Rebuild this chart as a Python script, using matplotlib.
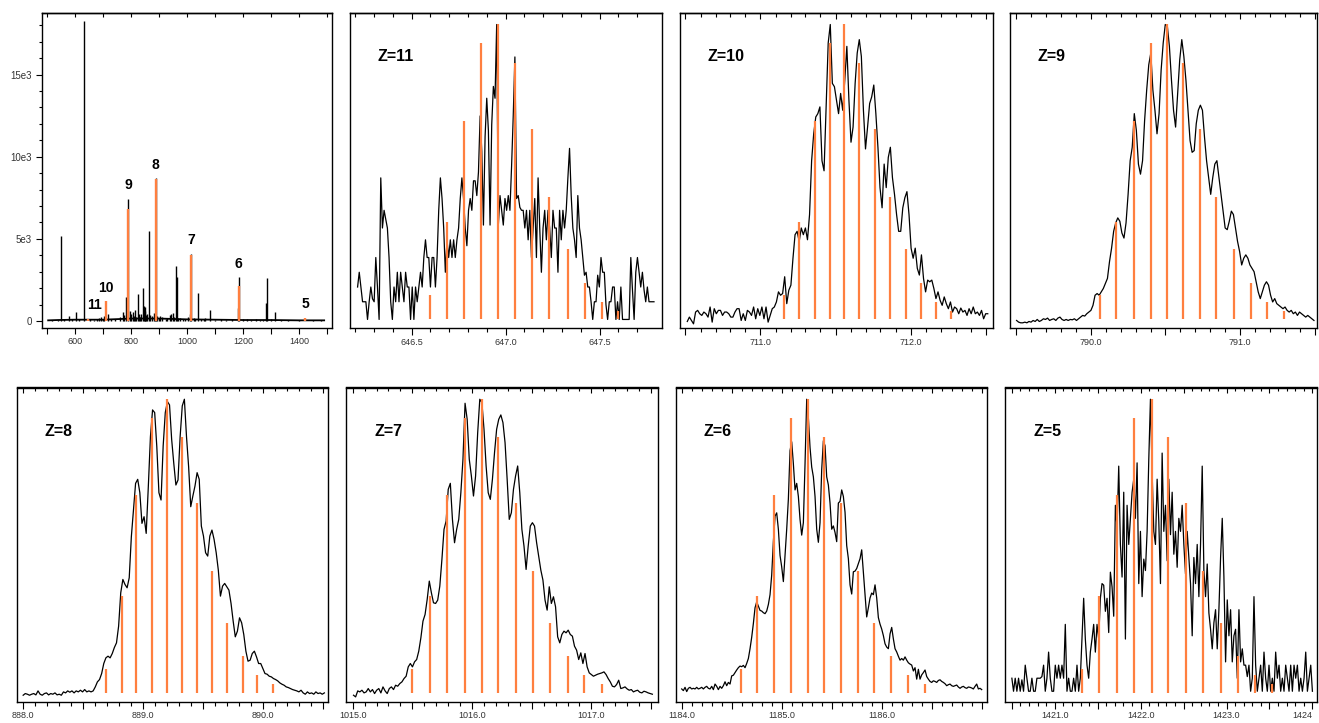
import numpy as np
import matplotlib
matplotlib.use("Agg")
import matplotlib.pyplot as plt
from matplotlib.ticker import NullFormatter

plt.rcParams['font.family'] = ['Liberation Sans', 'DejaVu Sans']

ORANGE = '#FF7F3F'
TICK_COLOR = '#333333'

# ---------------- Overview spectrum (panel 1) ----------------
overview_peak_mz = [551, 581, 604, 632, 688, 700, 720, 771, 783, 790.5, 798, 807, 815, 826, 834,
                    843, 846, 849, 855, 865.5, 874, 881, 889.2, 895, 905, 924, 945, 950, 961, 964,
                    970, 988, 1010, 1016.1, 1025, 1040.5, 1050, 1081, 1121, 1160, 1181, 1185.3, 1215,
                    1247, 1282, 1284.5, 1300, 1315.5]
overview_peak_int = [5200, 300, 520, 18250, 200, 150, 400, 530, 1480, 7450, 630, 540, 690, 1630, 250,
                     1990, 900, 830, 350, 5500, 300, 480, 8700, 300, 280, 150, 450, 470, 3370, 2700,
                     200, 150, 400, 4100, 200, 1720, 150, 700, 150, 100, 770, 2650, 100,
                     100, 1080, 2620, 100, 550]
overview_minor_mz = [520, 540, 560, 590, 615, 655, 668, 680, 695, 706, 730, 745, 760, 777, 802, 811,
                     820, 830, 838, 852, 858, 869, 885, 900, 912, 930, 940, 955, 975, 995, 1005, 1030,
                     1060, 1065, 1100, 1140, 1200, 1230, 1262, 1270, 1335, 1360, 1400, 1450, 1480]
overview_minor_int = [80, 60, 150, 100, 120, 100, 80, 150, 250, 300, 150, 120, 250, 350, 400, 300,
                      250, 450, 400, 600, 450, 350, 250, 200, 250, 200, 350, 250, 200, 120, 250, 150,
                      150, 200, 80, 80, 120, 60, 80, 60, 60, 50, 50, 50, 50]
overview_base_mz = [505, 540, 600, 700, 760, 800, 900, 1000, 1100, 1200, 1300, 1400, 1490]
overview_base_int = [40, 60, 80, 80, 120, 150, 150, 100, 80, 60, 60, 40, 40]

charge_states = [11, 10, 9, 8, 7, 6, 5]
charge_mz = [646.96, 711.56, 790.51, 889.20, 1016.08, 1185.26, 1422.13]
charge_int = [150, 1220, 6800, 8650, 4020, 2150, 200]

# ---------------- Theoretical isotope distribution (relative %) ----------------
isotope_rel = [8.3, 33.0, 67.3, 93.7, 100.0, 87.1, 64.5, 41.5, 23.8, 12.5, 6.0, 3.0]

# ---------------- Z=11 ----------------
z11_range = (646.213, 647.789)
z11_int = [11, 16, 11, 6, 6, 6, 0, 6, 11, 7,
           6, 21, 11, 0, 48, 31, 37, 34, 31, 21,
           6, 0, 11, 6, 16, 6, 16, 11, 6, 16,
           11, 11, 0, 11, 0, 11, 6, 11, 16, 11,
           21, 27, 21, 21, 11, 21, 21, 11, 21, 37,
           48, 41, 31, 16, 27, 21, 27, 21, 27, 21,
           27, 31, 41, 48, 41, 31, 25, 37, 41, 37,
           47, 47, 42, 50, 69, 57, 32, 62, 75, 64,
           32, 66, 79, 75, 100, 32, 42, 37, 32, 41,
           37, 42, 37, 52, 69, 89, 41, 42, 38, 37,
           37, 31, 37, 27, 37, 21, 31, 41, 21, 48,
           31, 16, 31, 37, 27, 37, 31, 21, 37, 31,
           31, 16, 37, 27, 37, 31, 37, 48, 58, 42,
           31, 27, 21, 42, 31, 27, 21, 15, 16, 11,
           11, 6, 0, 6, 6, 15, 11, 21, 16, 16,
           5, 0, 6, 6, 11, 11, 0, 6, 0, 11,
           0, 0, 0, 0, 0, 21, 10, 0, 16, 21,
           16, 11, 16, 10, 6, 11, 6, 6, 6, 6]
z11_sticks = [646.60, 646.69, 646.78, 646.87, 646.96, 647.05, 647.14, 647.23, 647.33, 647.42, 647.51, 647.60]

# ---------------- Z=10 ----------------
z10_range = (710.512, 712.515)
z10_int = [-6, 7, -3, -13, 22, 27, 17, 12, 22, 17,
           7, 37, -8, 32, 17, 27, 27, 12, 22, 22,
           17, 7, 7, 22, 32, 32, -3, 17, -3, 27,
           22, 12, 37, 2, 32, 12, 37, 2, 37, -8,
           12, 32, 37, 52, 82, 72, 77, 127, 47, 87,
           102, 182, 252, 262, 232, 272, 252, 272, 237, 312,
           472, 552, 602, 612, 632, 472, 442, 632, 822, 877,
           702, 692, 652, 612, 672, 622, 712, 812, 652, 527,
           572, 702, 792, 832, 782, 622, 507, 572, 642, 662,
           697, 612, 512, 392, 332, 462, 392, 482, 512, 422,
           372, 312, 262, 262, 332, 362, 380, 312, 212, 182,
           212, 152, 132, 192, 122, 82, 117, 112, 117, 92,
           62, 82, 57, 42, 67, 47, 32, 52, 22, 37,
           32, 17, 34, 22, 27, 12, 32, 17, 37, 17,
           22, 12, 27, 2, 17, 17]
z10_sticks = [711.16, 711.26, 711.36, 711.46, 711.56, 711.66, 711.76, 711.86, 711.97, 712.07, 712.17, 712.27]

# ---------------- Z=9 ----------------
z9_range = (789.504, 791.493)
z9_int = [-3, -8, -10, -10, -8, -10, -6, -8, -3, -6,
          0, -6, -3, 2, 0, 4, -3, 0, 2, -3,
          4, 7, 0, -3, 0, -3, 0, -1, 2, -3,
          2, 7, 12, 10, 17, 22, 27, 42, 72, 77,
          72, 82, 92, 107, 122, 172, 212, 262, 287, 302,
          292, 257, 242, 287, 372, 472, 512, 612, 562, 462,
          432, 472, 592, 682, 757, 792, 682, 622, 552, 612,
          742, 822, 877, 872, 812, 712, 622, 572, 672, 772,
          832, 782, 712, 622, 532, 497, 502, 582, 622, 637,
          622, 542, 472, 422, 372, 422, 462, 472, 422, 372,
          322, 272, 267, 292, 322, 312, 272, 232, 202, 162,
          182, 192, 182, 162, 152, 142, 112, 82, 62, 82,
          102, 112, 102, 72, 52, 62, 47, 42, 37, 32,
          37, 27, 22, 27, 17, 22, 12, 22, 17, 12,
          7, 12, 7, 2, -3]
z9_sticks = [790.06, 790.17, 790.29, 790.40, 790.51, 790.62, 790.73, 790.84, 790.96, 791.07, 791.18, 791.29]

# ---------------- Z=8 ----------------
z8_range = (888.000, 890.509)
z8_int = [-7, -2, -4, -7, -4, -2, -6, 6, -4, -7,
          -2, 0, -6, -2, -4, 0, -6, -4, -7, 3,
          0, 6, 2, 6, 0, 6, 3, 8, 3, 10,
          3, 6, 3, 6,
          18, 33, 40, 58, 88, 105, 110, 105, 118, 136,
          150, 200, 300, 340, 325, 315, 345, 468, 548, 628,
          640, 600, 508, 528, 478, 618, 768, 848, 840, 738,
          600, 578, 740, 840, 873, 863, 760, 688, 623, 638,
          768, 860, 880, 768, 678, 558, 590, 620, 660, 640,
          500, 470, 420, 410, 470, 488, 460, 420, 368, 290,
          320, 328, 318, 308, 268, 215, 168, 185, 225, 210,
          175, 125, 95, 98, 118, 125, 108, 88,
          88, 73, 58, 56, 50, 48, 43, 40, 36, 30,
          26, 23, 18, 16, 13, 10, 8, 6, 3, 8,
          0, -4, 3, -2, 0, -4, 3, -2, 0, -4, 0]
z8_sticks = [888.69, 888.82, 888.94, 889.07, 889.20, 889.32, 889.45, 889.57, 889.70, 889.83, 889.95, 890.08]

# ---------------- Z=7 ----------------
z7_range = (1015.007, 1017.511)
z7_int = [-7, -12, 6, 3, 8, 0, 3, 13, 3, 10,
          -2, 8, 13, 0, 18, 6, -2, 13, 18, 10,
          23, 20, 28, 33, 43, 50, 78, 88, 78, 93,
          100, 125, 165, 215, 235, 280, 335,
          300, 270, 268, 278, 320, 400, 490, 515, 610, 628,
          520, 450, 490, 520, 600, 700, 868, 820, 700, 650,
          590, 650, 780, 880, 870, 790, 680, 600, 580, 640,
          720, 790, 820, 833, 810, 750, 640, 520, 540, 610,
          650, 680, 600, 490, 440, 370,
          440, 500, 510, 500, 450, 408, 368, 338, 278, 248,
          318, 268, 288, 258, 168, 150, 175, 185, 180, 188,
          175, 170, 140, 128, 100, 120, 88, 118, 78, 60,
          55, 50, 53, 56, 58, 60, 63, 55, 43, 33,
          20, 18, 25, 38, 13, 15, 18, 12, 8, 10,
          3, 6, 8, 2, 0, 5, 3, 0, -2, -4]
z7_sticks = [1015.50, 1015.65, 1015.79, 1015.94, 1016.08, 1016.22, 1016.37, 1016.51, 1016.65, 1016.80,
             1016.94, 1017.09]

# ---------------- Z=6 ----------------
z6_range = (1184.000, 1187.000)
z6_int = [12, 7, 17, 4, 14, 17, 12, 14, 12, 17,
          12, 14, 17, 12, 17, 20, 14, 12, 20, 10,
          27, 20, 10, 20, 14, 22, 34, 22, 32, 27,
          52, 54, 62, 70, 77, 82, 80, 84, 77, 90,
          105, 135, 170, 212, 260, 278, 265, 252, 250, 245,
          242, 250, 270, 300, 360, 462, 540,
          550, 500, 420, 385, 340, 420, 500, 592, 740, 767,
          700, 620, 640, 600, 530, 482, 520, 700, 897, 840,
          750, 690, 660, 600, 500, 460, 520, 682, 770, 755,
          660, 635, 580, 500, 510, 490, 462, 580, 585, 620,
          600, 552, 450, 410, 330, 302, 370, 372, 380, 395,
          410, 437, 370, 300, 232, 260, 290, 305, 300, 330, 290,
          230, 210, 195, 175, 150, 140, 135, 180, 200, 165,
          135, 125, 112, 100, 105, 100, 110, 100, 92, 88,
          85, 67, 77, 42, 72, 42, 55, 62, 70, 50,
          42, 35, 32, 37, 35, 32, 38, 40, 35, 32,
          28, 22, 25, 27, 22, 20, 22, 24, 18, 14,
          18, 20, 16, 14, 18, 17, 15, 12, 20, 27,
          12, 14, 10]
z6_sticks = [1184.59, 1184.75, 1184.92, 1185.09, 1185.26, 1185.42, 1185.59, 1185.76, 1185.92, 1186.09,
             1186.26, 1186.43]

# ---------------- Z=5 ----------------
z5_range = (1420.500, 1424.000)
z5_int = [45, 5, 45, 5, 45, 5, 40, 5, 85, 45,
          5, 5, 45, 5, 5, 45, 45, 45, 50, 85,
          5, 45, 125, 45, 5, 5, 85, 45, 85, 45,
          85, 45, 210, 5, 45, 5, 5, 45, 5, 85,
          5, 45, 165, 290, 165, 85, 45, 125, 165, 210,
          125, 210, 165, 290, 335, 330, 250, 290, 185, 370,
          325, 235, 575, 505, 695, 455, 355, 615, 165, 575,
          455, 535, 615, 655, 535, 705, 335, 495, 295, 410,
          375, 495, 715, 900, 675, 495, 455, 655, 525, 335,
          735, 495, 575, 405, 655, 485, 615, 425, 495, 385,
          535, 495, 575, 455, 365, 495, 415, 335, 175, 415,
          335, 455, 295, 455, 695, 375, 295, 395, 245, 195,
          135, 215, 255, 135, 255, 415, 535, 355, 95, 285,
          175, 255, 95, 175, 195, 45, 255, 95, 135, 85,
          85, 50, 85, 5, 45, 295, 85, 5, 45, 85,
          5, 125, 45, 5, 85, 5, 45, 5, 125, 45,
          85, 5, 45, 5, 85, 45, 5, 85, 5, 85,
          45, 85, 5, 45, 5, 45, 125, 5, 45, 85,
          5]
z5_sticks = [1421.32, 1421.52, 1421.73, 1421.92, 1422.13, 1422.32, 1422.53, 1422.73, 1422.93, 1423.13,
             1423.33, 1423.53]

# ======================================================================
W, H = 1319, 723
fig = plt.figure(figsize=(W / 100, H / 100), dpi=100)
fig.patch.set_facecolor('white')


def rect(l, r, t, b):
    return [l / W, 1 - b / H, (r - l) / W, (b - t) / H]


def frame(ax):
    for s in ax.spines.values():
        s.set_linewidth(1.0)
        s.set_color('black')


def top_ticks(ax, majors, minors, maj_len=4.5, min_len=3.0):
    sec = ax.secondary_xaxis('top')
    sec.set_xticks(majors)
    sec.set_xticks(minors, minor=True)
    sec.xaxis.set_major_formatter(NullFormatter())
    sec.xaxis.set_minor_formatter(NullFormatter())
    sec.tick_params(axis='x', which='major', direction='in', length=maj_len, width=0.8)
    sec.tick_params(axis='x', which='minor', direction='in', length=min_len, width=0.8)
    sec.spines['top'].set_linewidth(1.0)


# ---------------- Panel 1 ----------------
ax1 = fig.add_axes(rect(42, 332, 12.7, 328.3))
frame(ax1)
ax1.plot(overview_base_mz, overview_base_int, color='black', lw=1.3, zorder=2)
ax1.vlines(overview_minor_mz, 0, overview_minor_int, color='black', lw=1.0, zorder=2)
ax1.vlines(overview_peak_mz, 0, overview_peak_int, color='black', lw=1.0, zorder=2)
ax1.vlines(charge_mz, 0, charge_int, color=ORANGE, lw=1.7, zorder=3)
pk_mz = np.array(overview_peak_mz)
pk_int = np.array(overview_peak_int)
for z, mz, h in zip(charge_states, charge_mz, charge_int):
    near = pk_int[np.abs(pk_mz - mz) < 3]
    top = max([h] + list(near))
    dx = 5 if z == 11 else 0
    ax1.annotate(str(z), xy=(mz, top), xytext=(dx, 4.5), textcoords='offset points',
                 ha='center', va='bottom', fontsize=10, fontweight='bold')
ax1.set_xlim(483, 1518)
ax1.set_ylim(-444, 18765)
ax1.set_xticks([600, 800, 1000, 1200, 1400])
ax1.set_xticklabels(['600', '800', '1000', '1200', '1400'])
ax1.set_xticks([500, 700, 900, 1100, 1300, 1500], minor=True)
ax1.tick_params(axis='x', which='both', direction='out', length=4, width=0.8, pad=2,
                labelsize=6.5, labelcolor=TICK_COLOR)
ax1.set_yticks([0, 5000, 10000, 15000])
ax1.set_yticklabels(['0', '5e3', '10e3', '15e3'])
ax1.set_yticks(np.arange(0, 18001, 1000), minor=True)
ax1.tick_params(axis='y', which='major', direction='out', length=4.5, width=0.8, pad=3,
                labelsize=7, labelcolor=TICK_COLOR)
ax1.tick_params(axis='y', which='minor', direction='out', length=2.5, width=0.8)
top_ticks(ax1, [600, 800, 1000, 1200, 1400], [500, 700, 900, 1100, 1300, 1500], 3.0, 3.0)


# ---------------- Isotope panels ----------------
def isotope_panel(r, z, mz_range, intens, sticks, xlim, tick_lo, tick_hi, labelled, last_short=False):
    ax = fig.add_axes(r)
    frame(ax)
    y = np.asarray(intens, dtype=float)
    y = y / y.max() * 100.0
    x = np.linspace(mz_range[0], mz_range[1], len(y))
    ax.plot(x, y, color='black', lw=0.9, zorder=2)
    ax.vlines(sticks, 0, isotope_rel, color=ORANGE, lw=1.6, zorder=3)
    ax.set_xlim(*xlim)
    ax.set_ylim(-3, 104)
    ax.set_yticks([])
    allt = np.round(np.arange(tick_lo, tick_hi + 1e-6, 0.1), 2)
    majors = [t for t in allt if abs(t * 2 - round(t * 2)) < 1e-6]
    minors = [t for t in allt if t not in majors]
    labels = [f"{t:.1f}" if any(abs(t - L) < 1e-6 for L in labelled) else '' for t in majors]
    if last_short and labels[-1]:
        labels[-1] = f"{majors[-1]:.0f}"
    ax.set_xticks(majors)
    ax.set_xticklabels(labels)
    ax.set_xticks(minors, minor=True)
    ax.tick_params(axis='x', which='major', direction='out', length=5, width=0.8, pad=2,
                   labelsize=6.5, labelcolor=TICK_COLOR)
    ax.tick_params(axis='x', which='minor', direction='out', length=3, width=0.8)
    if last_short:
        ax.get_xticklabels()[-1].set_horizontalalignment('right')
    top_ticks(ax, majors, minors, 4.5, 3.0)
    ax.text(0.09, 0.86, f"Z={z}", transform=ax.transAxes, ha='left', va='center',
            fontsize=11.5, fontweight='bold')
    return ax


isotope_panel(rect(349.5, 661.7, 12.7, 328.3), 11, z11_range, z11_int, z11_sticks,
              (646.17, 647.83), 646.2, 647.7, [646.5, 647.0, 647.5])
isotope_panel(rect(679.5, 993, 12.7, 328.3), 10, z10_range, z10_int, z10_sticks,
              (710.46, 712.55), 710.5, 712.5, [711.0, 712.0])
isotope_panel(rect(1010, 1316.5, 12.7, 328.3), 9, z9_range, z9_int, z9_sticks,
              (789.46, 791.51), 789.5, 791.5, [790.0, 791.0])
isotope_panel(rect(16.8, 327.5, 387.5, 701.7), 8, z8_range, z8_int, z8_sticks,
              (887.947, 890.535), 888.0, 890.5, [888.0, 889.0, 890.0])
isotope_panel(rect(346, 657.5, 387.5, 701.7), 7, z7_range, z7_int, z7_sticks,
              (1014.944, 1017.554), 1015.0, 1017.5, [1015.0, 1016.0, 1017.0])
isotope_panel(rect(675.7, 986.7, 387.5, 701.7), 6, z6_range, z6_int, z6_sticks,
              (1183.94, 1187.05), 1184.0, 1187.0, [1184.0, 1185.0, 1186.0])
isotope_panel(rect(1005, 1316.7, 387.5, 701.7), 5, z5_range, z5_int, z5_sticks,
              (1420.42, 1424.05), 1420.5, 1424.0, [1421.0, 1422.0, 1423.0, 1424.0], last_short=True)

fig.savefig('out.png', dpi=100, facecolor='white')
